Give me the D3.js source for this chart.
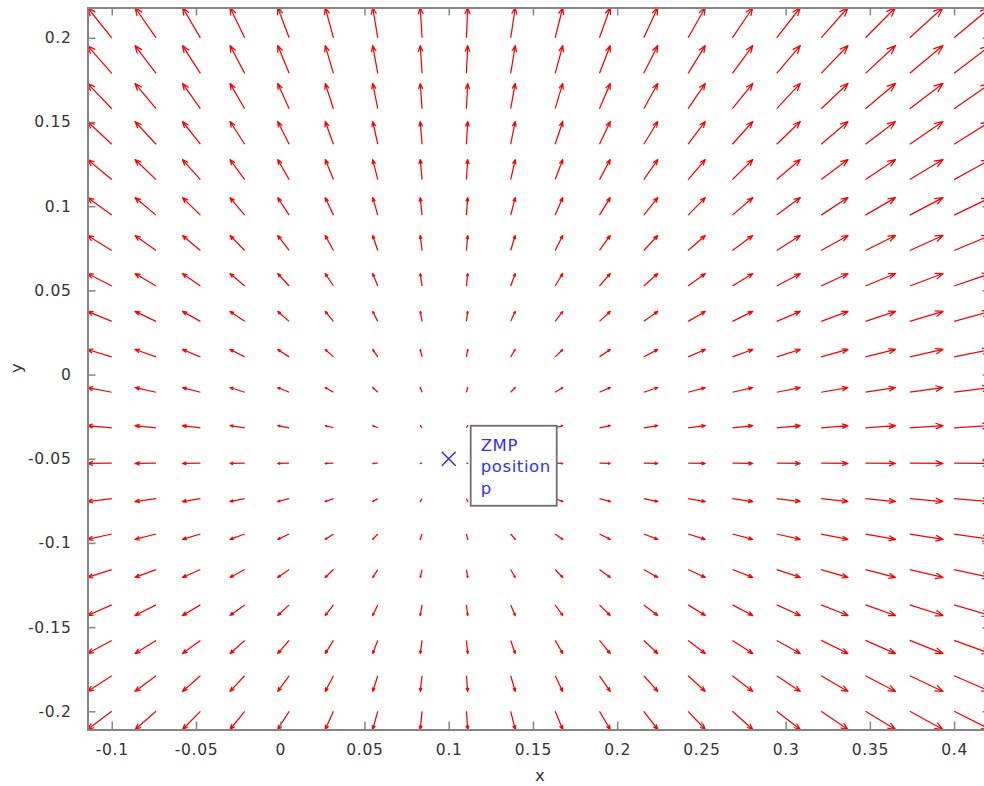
<!DOCTYPE html>
<html>
<head>
<meta charset="utf-8">
<script src="https://cdn.jsdelivr.net/npm/d3@7"></script>
<style>
  html, body { margin: 0; padding: 0; background: #fff; }
  svg { display: block; }
  text { font-family: "DejaVu Sans", sans-serif; }
</style>
</head>
<body>
<svg id="chart" width="984" height="786"></svg>
<script>
// ---- data ----
const xGrid = [-0.1, -0.0737, -0.0474, -0.0211, 0.0053, 0.0316, 0.0579, 0.0842, 0.1105, 0.1368,
               0.1632, 0.1895, 0.2158, 0.2421, 0.2684, 0.2947, 0.3211, 0.3474, 0.3737, 0.4];
const yGrid = [-0.2, -0.1789, -0.1579, -0.1368, -0.1158, -0.0947, -0.0737, -0.0526, -0.0316, -0.0105,
               0.0105, 0.0316, 0.0526, 0.0737, 0.0947, 0.1158, 0.1368, 0.1579, 0.1789, 0.2];
// x-component of each arrow, per column (same for every row)
const uCol = [-0.0144, -0.0125, -0.0106, -0.0087, -0.0068, -0.0049, -0.0030, -0.0011, 0.0008, 0.0027,
              0.0045, 0.0064, 0.0083, 0.0102, 0.0121, 0.0140, 0.0159, 0.0178, 0.0197, 0.0216];
// y-component of each arrow, per row (same for every column)
const vRow = [-0.0108, -0.0093, -0.0078, -0.0063, -0.0047, -0.0032, -0.0017, -0.0002, 0.0013, 0.0028,
              0.0044, 0.0059, 0.0074, 0.0089, 0.0104, 0.0119, 0.0135, 0.0150, 0.0165, 0.0180];
const zmpPoint = [0.1, -0.05];
const zmpLabel = ["ZMP", "position", "p"];
const xTicks = [-0.1, -0.05, 0, 0.05, 0.1, 0.15, 0.2, 0.25, 0.3, 0.35, 0.4];
const yTicks = [-0.2, -0.15, -0.1, -0.05, 0, 0.05, 0.1, 0.15, 0.2];
const xDomain = [-0.1144, 0.4216];
const yDomain = [-0.2108, 0.2180];

// ---- layout ----
const svg = d3.select("#chart");
const pL = 87.5, pT = 7.5, pR = 990.5, pB = 729.5;
const x = d3.scaleLinear().domain(xDomain).range([pL, pR]);
const y = d3.scaleLinear().domain(yDomain).range([pB, pT]);
const axisColor = "#858585";
const textColor = "#333333";

svg.append("defs").append("clipPath").attr("id", "plotclip")
  .append("rect").attr("x", pL - 1).attr("y", pT - 1)
  .attr("width", pR - pL + 2).attr("height", pB - pT + 2);

// ---- quiver arrows ----
const arrows = [];
yGrid.forEach((yy, j) => xGrid.forEach((xx, i) => {
  arrows.push({ x: xx, y: yy, u: uCol[i], v: vRow[j] });
}));
const headFrac = 0.22, headWidth = 0.085;
function arrowPath(d) {
  const x0 = x(d.x), y0 = y(d.y);
  const x1 = x(d.x + d.u), y1 = y(d.y + d.v);
  const dx = x1 - x0, dy = y1 - y0;
  const bx = x0 + dx * (1 - headFrac), by = y0 + dy * (1 - headFrac);
  const px = -dy * headWidth, py = dx * headWidth;
  return `M${x0},${y0}L${x1},${y1}M${bx + px},${by + py}L${x1},${y1}L${bx - px},${by - py}`;
}
svg.append("g").attr("clip-path", "url(#plotclip)")
  .selectAll("path").data(arrows).join("path")
  .attr("d", arrowPath)
  .attr("fill", "none")
  .attr("stroke", "#ff0000")
  .attr("stroke-width", 1.25)
  .attr("stroke-linejoin", "round");

// ---- ZMP marker and label ----
const mx = x(zmpPoint[0]), my = y(zmpPoint[1]);
svg.append("path")
  .attr("d", `M${mx - 7},${my - 7}L${mx + 7},${my + 7}M${mx - 7},${my + 7}L${mx + 7},${my - 7}`)
  .attr("stroke", "#2a2aff").attr("stroke-width", 1.4).attr("fill", "none");

svg.append("rect")
  .attr("x", mx + 22).attr("y", my - 33).attr("width", 86).attr("height", 80)
  .attr("fill", "#fff").attr("stroke", "#6e6e6e").attr("stroke-width", 1.8);
const lbl = svg.append("text")
  .attr("x", mx + 32).attr("y", my - 8)
  .attr("fill", "#3030ff").attr("font-size", 16.5).attr("letter-spacing", 0.6);
zmpLabel.forEach((t, k) => lbl.append("tspan").attr("x", mx + 32).attr("dy", k === 0 ? 0 : 21.5).text(t));

// ---- axes ----
const fmt = d => (Math.round(d * 100) / 100).toString();
const axB = d3.axisBottom(x).tickValues(xTicks).tickSize(-8).tickPadding(14).tickFormat(fmt);
const axT = d3.axisTop(x).tickValues(xTicks).tickSize(-8).tickFormat("");
const axL = d3.axisLeft(y).tickValues(yTicks).tickSize(-8).tickPadding(16).tickFormat(fmt);
const axR = d3.axisRight(y).tickValues(yTicks).tickSize(-8).tickFormat("");

function style(g) {
  g.select(".domain").attr("stroke", axisColor).attr("stroke-width", 2);
  g.selectAll(".tick line").attr("stroke", axisColor).attr("stroke-width", 1.5);
  g.selectAll(".tick text").attr("fill", textColor)
    .attr("font-family", "DejaVu Sans, sans-serif").attr("font-size", 15.5).attr("letter-spacing", 0.7);
}
svg.append("g").attr("transform", `translate(0,${pB})`).call(axB).call(style);
svg.append("g").attr("transform", `translate(0,${pT})`).call(axT).call(style);
svg.append("g").attr("transform", `translate(${pL},0)`).call(axL).call(style);
svg.append("g").attr("transform", `translate(${pR},0)`).call(axR).call(style);

// axis labels
svg.append("text").attr("x", 540).attr("y", 781).attr("text-anchor", "middle")
  .attr("fill", textColor).attr("font-size", 16.5).text("x");
svg.append("text").attr("transform", "translate(22,368) rotate(-90)").attr("text-anchor", "middle")
  .attr("fill", textColor).attr("font-size", 16.5).text("y");
</script>
</body>
</html>
